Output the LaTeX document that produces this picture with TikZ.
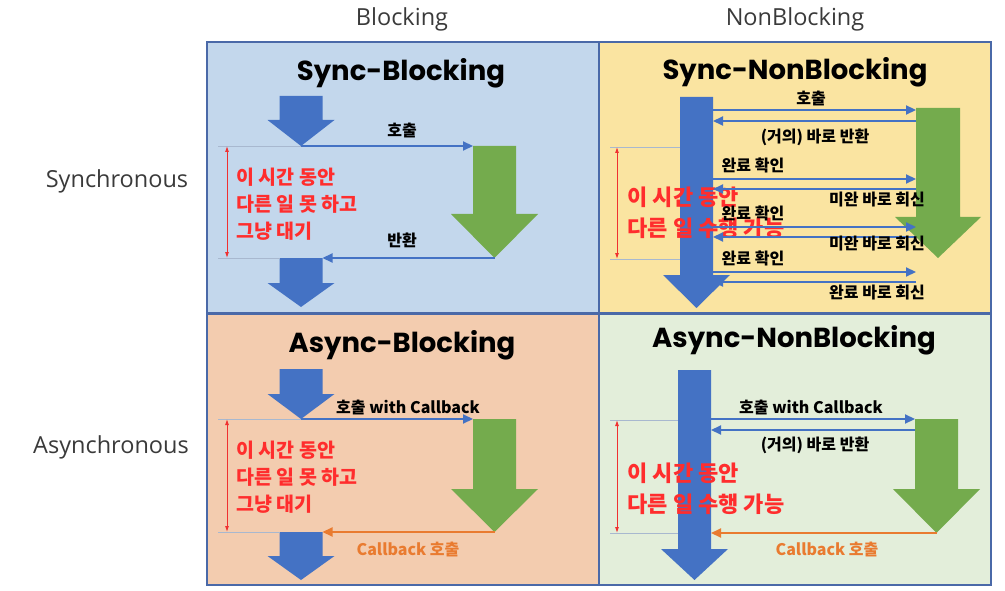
\documentclass[tikz,border=0pt]{standalone}
\usepackage{fontspec}
\setmainfont{Noto Sans CJK KR}
\newfontfamily\titlefont{Poppins}
\newfontfamily\axisfont{Open Sans}
\usetikzlibrary{arrows.meta,positioning}

\definecolor{frameblue}{HTML}{4A69A8}
\definecolor{tlfill}{HTML}{C3D7EC}
\definecolor{trfill}{HTML}{FAE4A1}
\definecolor{blfill}{HTML}{F3CCAF}
\definecolor{brfill}{HTML}{E3EEDA}
\definecolor{arrblue}{HTML}{4472C4}
\definecolor{arrgreen}{HTML}{74AB4D}
\definecolor{cborange}{HTML}{E97B30}
\definecolor{notered}{HTML}{FF2D2D}
\definecolor{dimred}{HTML}{F03030}
\definecolor{guidegray}{HTML}{A8B8CF}
\definecolor{axisgray}{HTML}{3A3A3A}

% block arrow: name, colour, centre x, shaft half width, head half width, top, head start, tip
\newcommand{\blockarrow}[8]{%
  \fill[#2] ({#3-#4},#6) -- ({#3+#4},#6) -- ({#3+#4},#7) -- ({#3+#5},#7)
    -- (#3,#8) -- ({#3-#5},#7) -- ({#3-#4},#7) -- cycle;
  \coordinate (#1-tip) at (#3,#8);
  \coordinate (#1-l) at ({#3-#4},#6);
  \coordinate (#1-r) at ({#3+#4},#6);
}

\begin{document}
\begin{tikzpicture}[x=1pt,y=-1pt,
 quad/.style={draw=frameblue,line width=2pt,minimum width=392pt,minimum height=271pt,inner sep=0pt},
 quadtitle/.style={font=\titlefont\bfseries\fontsize{27.5}{32}\selectfont},
 axislbl/.style={font=\axisfont\fontsize{23.5}{28}\selectfont,text=axisgray},
 lbl/.style={font=\bfseries\fontsize{16}{19}\selectfont,inner sep=1pt},
 rednote/.style={font=\bfseries\fontsize{19.5}{27}\selectfont,text=notered,align=left,anchor=west},
 bignote/.style={rednote,font=\bfseries\fontsize{22}{31}\selectfont},
 callline/.style={draw=arrblue,line width=2.2pt,-{Triangle[length=10pt,width=9pt]}},
 cbline/.style={callline,draw=cborange},
 waitdim/.style={draw=dimred,line width=0.9pt,{Latex[length=6pt,width=4pt]}-{Latex[length=6pt,width=4pt]}},
 guideline/.style={draw=guidegray,line width=0.8pt}]
\useasboundingbox (0,0) rectangle (1005,591);

% quadrants
\node[quad,fill=tlfill] (sb) at (403,177.5) {};
\node[quad,fill=trfill] (snb) at (794.5,177.5) {};
\node[quad,fill=blfill] (ab) at (403,449) {};
\node[quad,fill=brfill] (anb) at (794.5,449) {};

\node[axislbl] (colb) at (402,19) {Blocking};
\node[axislbl] (colnb) at (795,19) {NonBlocking};
\node[axislbl] (rows) at (117,181) {Synchronous};
\node[axislbl] (rowa) at (111,447) {Asynchronous};

\node[quadtitle] (sbt) at (401,73) {Sync-Blocking};
\node[quadtitle] (snbt) at (795,72) {Sync-NonBlocking};
\node[quadtitle] (abt) at (402,345) {Async-Blocking};
\node[quadtitle] (anbt) at (794,340) {Async-NonBlocking};

% Sync-Blocking
\blockarrow{sbA}{arrblue}{301}{21.5}{33.5}{96}{120}{146}
\blockarrow{sbG}{arrgreen}{494.5}{21.5}{43.5}{146}{214}{258}
\blockarrow{sbB}{arrblue}{301}{21.5}{33.5}{258}{283}{307}
\coordinate (sbwt) at (218,146);
\coordinate (sbwb) at (218,258);
\draw[guideline] (sbwt) -- (sbA-tip);
\draw[guideline] (sbwb) -- (sbB-l);
\draw[waitdim] ([xshift=9pt]sbwt) -- ([xshift=9pt]sbwb);
\node[rednote] (sbwait) at (233,204) {이 시간 동안\\다른 일 못 하고\\그냥 대기};
\draw[callline] (sbA-tip) -- (sbG-l);
\node[lbl] (sbcall) at (402,130) {호출};
\draw[callline] (sbG-tip) -- (sbB-r);
\node[lbl] (sbret) at (402,240) {반환};

% Async-Blocking
\blockarrow{abA}{arrblue}{301}{21.5}{33.5}{369}{394}{419}
\blockarrow{abG}{arrgreen}{494.5}{21.5}{43.5}{419}{489}{532}
\blockarrow{abB}{arrblue}{301}{21.5}{33.5}{532}{556}{580}
\coordinate (abwt) at (218,419);
\coordinate (abwb) at (218,532);
\draw[guideline] (abwt) -- (abA-tip);
\draw[guideline] (abwb) -- (abB-l);
\draw[waitdim] ([xshift=9pt]abwt) -- ([xshift=9pt]abwb);
\node[rednote] (abwait) at (233,477) {이 시간 동안\\다른 일 못 하고\\그냥 대기};
\draw[callline] (abA-tip) -- (abG-l);
\node[lbl] (abcall) at (408,407) {호출 with Callback};
\draw[cbline] (abG-tip) -- (abB-r);
\node[lbl,text=cborange] (abcb) at (408,549) {Callback 호출};

% Sync-NonBlocking
\blockarrow{snbA}{arrblue}{696.5}{16.5}{33.5}{97}{275}{308}
\blockarrow{snbG}{arrgreen}{938}{22}{43}{108}{217}{258}
\coordinate (snbwt) at (610,147);
\coordinate (snbwb) at (610,259);
\draw[guideline] (snbwt) -- (snbA-l |- snbwt);
\draw[guideline] (snbwb) -- (snbA-l |- snbwb);
\draw[waitdim] ([xshift=7pt]snbwt) -- ([xshift=7pt]snbwb);
\node[bignote] (snbwait) at (624,213) {이 시간 동안\\다른 일 수행 가능};
\draw[callline] (snbA-r |- 0,110) -- (snbG-l |- 0,110);
\node[lbl] (snbcall) at (811,98) {호출};
\draw[callline] (snbG-l |- 0,121) -- (snbA-r |- 0,121);
\node[lbl] (snbret) at (815,137) {(거의) 바로 반환};
\foreach \i/\yo/\yb/\yl/\ans in {1/179/189/200/미완 바로 회신,2/227/237/244/미완 바로 회신,3/272/282/293/완료 바로 회신}{
  \node[lbl] (chk\i) at (753,{\yo-14}) {완료 확인};
  \draw[callline] (snbA-r |- 0,\yo) -- (snbG-l |- 0,\yo);
  \draw[callline] (snbG-l |- 0,\yb) -- (snbA-r |- 0,\yb);
  \node[lbl] (ans\i) at (877,\yl) {\ans};
}

% Async-NonBlocking
\blockarrow{anbA}{arrblue}{694.5}{16.5}{33.5}{370}{549}{580}
\blockarrow{anbG}{arrgreen}{936.5}{21.5}{43.5}{419}{489}{533}
\coordinate (anbwt) at (610,420);
\coordinate (anbwb) at (610,533);
\draw[guideline] (anbwt) -- (anbA-l |- anbwt);
\draw[guideline] (anbwb) -- (anbA-l |- anbwb);
\draw[waitdim] ([xshift=7pt]anbwt) -- ([xshift=7pt]anbwb);
\node[bignote] (anbwait) at (624,489) {이 시간 동안\\다른 일 수행 가능};
\draw[callline] (anbA-r |- anbG-l) -- (anbG-l);
\node[lbl] (anbcall) at (811,407) {호출 with Callback};
\draw[callline] (anbG-l |- 0,430) -- (anbA-r |- 0,430);
\node[lbl] (anbret) at (815,445) {(거의) 바로 반환};
\draw[cbline] (anbG-tip) -- (anbA-r |- anbG-tip);
\node[lbl,text=cborange] (anbcb) at (827,549) {Callback 호출};
\end{tikzpicture}
\end{document}
